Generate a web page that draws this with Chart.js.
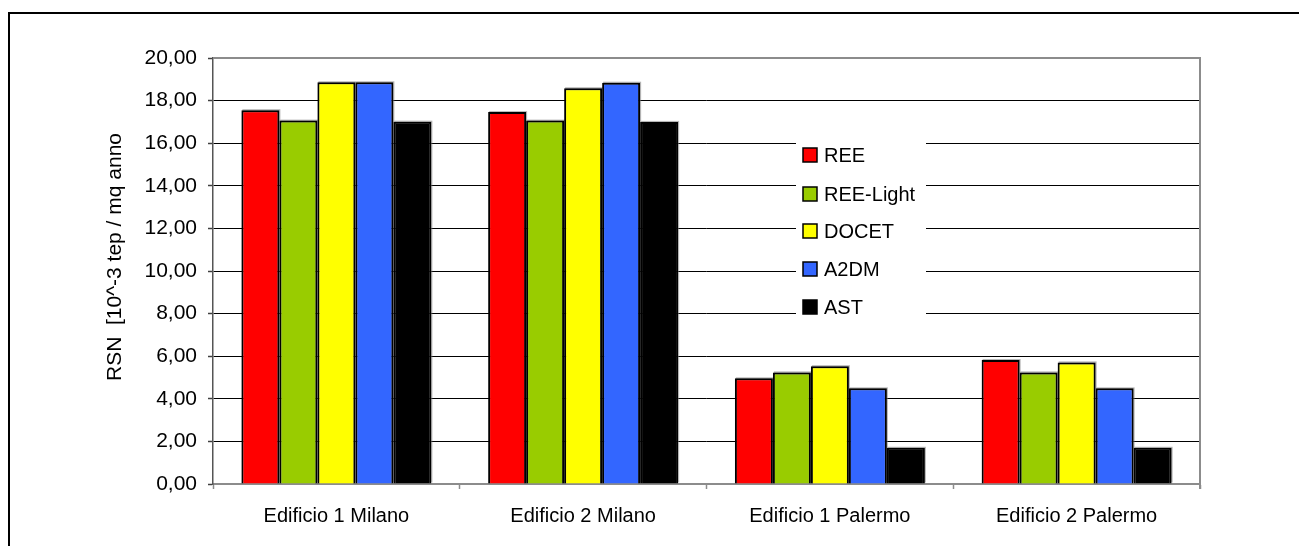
<!DOCTYPE html>
<html>
<head>
<meta charset="utf-8">
<script src="https://cdn.jsdelivr.net/npm/chart.js@4/dist/chart.umd.min.js"></script>
<style>
  html, body { margin: 0; padding: 0; background: #ffffff; }
  #wrap { width: 1299px; height: 546px; position: relative; }
</style>
</head>
<body>
<div id="wrap"><canvas id="c" width="1299" height="546"></canvas></div>
<script>
// Buildings compared
const categories = ['Edificio 1 Milano', 'Edificio 2 Milano', 'Edificio 1 Palermo', 'Edificio 2 Palermo'];

// RSN per method [10^-3 tep / mq anno]
const ree      = [17.55, 17.46, 4.96, 5.82];
const reeLight = [17.06, 17.06, 5.24, 5.24];
const docet    = [18.86, 18.58, 5.53, 5.71];
const a2dm     = [18.86, 18.84, 4.49, 4.49];
const ast      = [17.01, 17.00, 1.70, 1.70];

const seriesNames = ['REE', 'REE-Light', 'DOCET', 'A2DM', 'AST'];
const seriesColors = ['#FF0000', '#99CC00', '#FFFF00', '#3366FF', '#000000'];
const yAxisTitle = 'RSN  [10^-3 tep / mq anno';

const FONT = 'Arial, "Liberation Sans", sans-serif';

const seriesValues = [ree, reeLight, docet, a2dm, ast];
const datasets = seriesValues.map((vals, i) => ({
  label: seriesNames[i],
  data: vals,
  backgroundColor: seriesColors[i],
  borderColor: '#000000',
  borderWidth: 2,
  borderSkipped: 'bottom',
  barPercentage: 1.0,
  categoryPercentage: 0.77
}));

// Outer frame, plot-area border, y title and in-plot legend
const decorations = {
  id: 'decorations',
  beforeDraw(chart) {
    const ctx = chart.ctx;
    ctx.save();
    ctx.fillStyle = '#ffffff';
    ctx.fillRect(0, 0, chart.width, chart.height);
    ctx.strokeStyle = '#000000';
    ctx.lineWidth = 2;
    ctx.strokeRect(9, 13, chart.width + 40, chart.height + 40);
    ctx.restore();
  },
  beforeDatasetsDraw(chart) {
    // soft grey drop shadow behind the bars
    const ctx = chart.ctx;
    ctx.save();
    ctx.fillStyle = 'rgba(120,120,120,0.55)';
    chart.data.datasets.forEach((ds, i) => {
      chart.getDatasetMeta(i).data.forEach(bar => {
        const w = bar.width;
        ctx.fillRect(bar.x - w / 2 + 1, bar.y - 1, w, bar.base - bar.y);
      });
    });
    ctx.restore();
  },
  afterDatasetsDraw(chart) {
    const ctx = chart.ctx;
    const a = chart.chartArea;
    ctx.save();
    // plot area top and right edges
    ctx.strokeStyle = '#8c8c8c';
    ctx.lineWidth = 2;
    ctx.beginPath();
    ctx.moveTo(a.left, a.top);
    ctx.lineTo(a.right, a.top);
    ctx.lineTo(a.right, a.bottom + 5);
    ctx.stroke();

    // y axis title
    ctx.fillStyle = '#000000';
    ctx.font = '21px ' + FONT;
    ctx.textAlign = 'center';
    ctx.textBaseline = 'middle';
    ctx.translate(115, 257);
    ctx.rotate(-Math.PI / 2);
    ctx.fillText(yAxisTitle, 0, 0);
    ctx.restore();

    // legend
    ctx.save();
    ctx.fillStyle = '#ffffff';
    ctx.fillRect(796, 136, 130, 186);
    ctx.font = '20px ' + FONT;
    ctx.textAlign = 'left';
    ctx.textBaseline = 'middle';
    const centers = [155, 194, 231, 269, 307];
    chart.data.datasets.forEach((ds, i) => {
      const cy = centers[i];
      ctx.fillStyle = ds.backgroundColor;
      ctx.fillRect(803, cy - 7, 14, 14);
      ctx.strokeStyle = '#000000';
      ctx.lineWidth = 1.5;
      ctx.strokeRect(803, cy - 7, 14, 14);
      ctx.fillStyle = '#000000';
      ctx.fillText(ds.label, 824, cy + 1);
    });
    ctx.restore();
  }
};

new Chart(document.getElementById('c'), {
  type: 'bar',
  data: { labels: categories, datasets },
  options: {
    responsive: false,
    animation: false,
    devicePixelRatio: 1,
    layout: { padding: { left: 0, top: 58, right: 99, bottom: 0 } },
    plugins: {
      legend: { display: false },
      tooltip: { enabled: false },
      title: { display: false }
    },
    scales: {
      x: {
        grid: {
          offset: true,
          drawOnChartArea: false,
          drawTicks: true,
          tickLength: 5,
          tickColor: '#8c8c8c',
          tickWidth: 1.5
        },
        border: { display: true, color: '#8c8c8c', width: 2 },
        ticks: {
          color: '#000000',
          font: { family: FONT, size: 20 },
          padding: 15,
          maxRotation: 0,
          autoSkip: false
        },
        afterFit(scale) { scale.height = 62; }
      },
      y: {
        min: 0,
        max: 20,
        grid: {
          color: ctx => (ctx.tick && (ctx.tick.value === 0 || ctx.tick.value === 20)) ? 'rgba(0,0,0,0)' : '#000000',
          lineWidth: 1,
          drawTicks: true,
          tickLength: 5,
          tickColor: '#404040',
          tickWidth: 1.5
        },
        border: { display: true, color: '#555555', width: 1.5 },
        ticks: {
          stepSize: 2,
          color: '#000000',
          font: { family: FONT, size: 21 },
          padding: 11,
          callback: v => Number(v).toFixed(2).replace('.', ',')
        },
        afterFit(scale) { scale.width = 213; }
      }
    }
  },
  plugins: [decorations]
});
</script>
</body>
</html>
